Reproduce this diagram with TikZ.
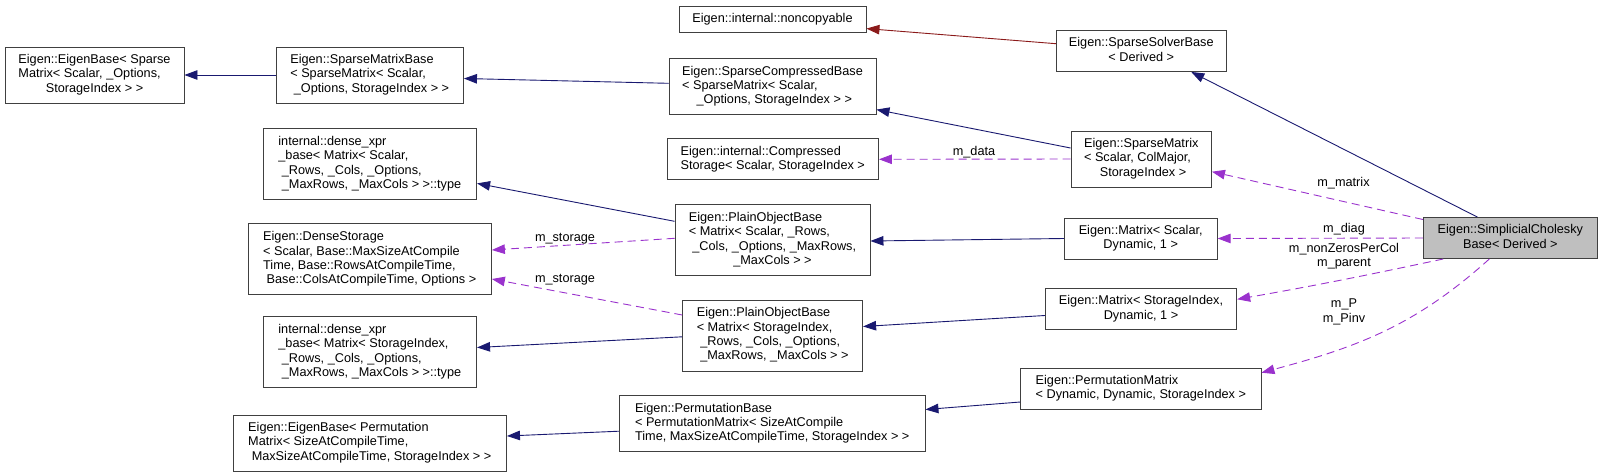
\documentclass[tikz,border=0pt]{standalone}
\usepackage{fontspec}
\setmainfont{Liberation Sans}
\usetikzlibrary{arrows.meta}
\definecolor{navy}{HTML}{191970}
\definecolor{dred}{HTML}{8B1A1A}
\definecolor{purp}{HTML}{9A32CD}
\definecolor{boxgray}{HTML}{BFBFBF}
\newcommand{\dlab}[2]{\begin{tabular}{@{}l@{}}#1\\\multicolumn{1}{@{}c@{}}{#2}\end{tabular}}
\tikzset{
  box/.style={draw=black!75, line width=0.9pt, inner sep=0pt, font=\fontsize{12.7}{14.3}\selectfont, text=black},
  lab/.style={font=\fontsize{12.7}{14.3}\selectfont, inner sep=0pt, align=center, text=black},
  tipa/.style={-{Triangle[length=13pt,width=9.5pt]}},
  inh/.style={draw=navy, line width=0.9pt, tipa},
  inhr/.style={draw=dred, line width=0.9pt, tipa},
  use/.style={draw=purp, line width=0.9pt, dash pattern=on 8pt off 5pt, tipa},
}
\begin{document}
\begin{tikzpicture}[x=1pt,y=-1pt]
\useasboundingbox (0,0) rectangle (1603,472);
% column 1
\node[box, minimum width=179pt, minimum height=56pt] (eb1) at (94.5,75) {\dlab{Eigen::EigenBase< Sparse\\Matrix< Scalar, \_Options,}{StorageIndex > >}};
% column 2
\node[box, minimum width=187.5pt, minimum height=56pt] (smb) at (369.75,75) {\dlab{Eigen::SparseMatrixBase\\< SparseMatrix< Scalar,}{\ \_Options, StorageIndex > >}};
\node[box, minimum width=213.6pt, minimum height=71pt] (dx1) at (369.8,164) {\dlab{internal::dense\_xpr\\\_base< Matrix< Scalar,\\\ \_Rows, \_Cols, \_Options,}{\ \_MaxRows, \_MaxCols > >::type}};
\node[box, minimum width=243.4pt, minimum height=71pt] (ds) at (369.7,259.3) {\dlab{Eigen::DenseStorage\\< Scalar, Base::MaxSizeAtCompile\\Time, Base::RowsAtCompileTime,}{\ Base::ColsAtCompileTime, Options >}};
\node[box, minimum width=213.6pt, minimum height=71pt] (dx2) at (369.8,352) {\dlab{internal::dense\_xpr\\\_base< Matrix< StorageIndex,\\\ \_Rows, \_Cols, \_Options,}{\ \_MaxRows, \_MaxCols > >::type}};
\node[box, minimum width=273.5pt, minimum height=56pt] (eb2) at (369.75,443) {\dlab{Eigen::EigenBase< Permutation\\Matrix< SizeAtCompileTime,}{\ MaxSizeAtCompileTime, StorageIndex > >}};
% column 3
\node[box, minimum width=187pt, minimum height=26pt] (nc) at (772.5,19) {Eigen::internal::noncopyable};
\node[box, minimum width=207pt, minimum height=56pt] (scb) at (772.5,86.6) {\dlab{Eigen::SparseCompressedBase\\< SparseMatrix< Scalar,}{\ \_Options, StorageIndex > >}};
\node[box, minimum width=211.5pt, minimum height=41pt] (cs) at (772.75,159.3) {\dlab{Eigen::internal::Compressed}{Storage< Scalar, StorageIndex >}};
\node[box, minimum width=195pt, minimum height=71pt] (pob1) at (772.5,240) {\dlab{Eigen::PlainObjectBase\\< Matrix< Scalar, \_Rows,\\\ \_Cols, \_Options, \_MaxRows,}{\_MaxCols > >}};
\node[box, minimum width=180pt, minimum height=71pt] (pob2) at (772.65,335.5) {\dlab{Eigen::PlainObjectBase\\< Matrix< StorageIndex,\\\ \_Rows, \_Cols, \_Options,}{\ \_MaxRows, \_MaxCols > >}};
\node[box, minimum width=305.5pt, minimum height=56pt] (pb) at (772.25,423.8) {\dlab{Eigen::PermutationBase\\< PermutationMatrix< SizeAtCompile}{Time, MaxSizeAtCompileTime, StorageIndex > >}};
% column 4
\node[box, minimum width=169.5pt, minimum height=41pt] (ssb) at (1141.25,51) {\dlab{Eigen::SparseSolverBase}{< Derived >}};
\node[box, minimum width=140.5pt, minimum height=56pt] (sm) at (1141.25,159) {\dlab{Eigen::SparseMatrix\\< Scalar, ColMajor,}{\ StorageIndex >}};
\node[box, minimum width=153pt, minimum height=41pt] (m1) at (1140.7,238.5) {\dlab{Eigen::Matrix< Scalar,}{Dynamic, 1 >}};
\node[box, minimum width=191.4pt, minimum height=41pt] (m2) at (1141,309) {\dlab{Eigen::Matrix< StorageIndex,}{Dynamic, 1 >}};
\node[box, minimum width=240.3pt, minimum height=41pt] (pm) at (1140.85,388.5) {\dlab{Eigen::PermutationMatrix}{< Dynamic, Dynamic, StorageIndex >}};
% column 5
\node[box, fill=boxgray, minimum width=174pt, minimum height=41pt] (sc) at (1510.35,238) {\dlab{Eigen::SimplicialCholesky}{Base< Derived >}};

% inheritance edges
\draw[inh] (smb.west) -- (eb1.east);
\draw[inh] ([yshift=3.3pt]scb.west) -- ([yshift=-3.5pt]smb.east);
\draw[inhr] ([yshift=7.3pt]ssb.west) -- ([yshift=-9.6pt]nc.east);
\draw[inh] ([xshift=-33pt]sc.north) -- ([xshift=50pt]ssb.south);
\draw[inh] ([yshift=11pt]sm.west) -- ([yshift=-23pt]scb.east);
\draw[inh] ([yshift=18.7pt]pob1.west) -- ([yshift=-19.4pt]dx1.east);
\draw[inh] (m1.west) -- ([yshift=-1pt]pob1.east);
\draw[inh] ([yshift=-6.5pt]m2.west) -- ([yshift=9pt]pob2.east);
\draw[inh] ([yshift=-1.3pt]pob2.west) -- ([yshift=4.5pt]dx2.east);
\draw[inh] ([yshift=-13.5pt]pm.west) -- ([yshift=14.3pt]pb.east);
\draw[inh] ([yshift=-7.4pt]pb.west) -- ([yshift=7pt]eb2.east);

% usage edges
\draw[use] (sm.west) -- (cs.east);
\draw[use] ([yshift=18.5pt]sc.west) -- ([yshift=-12.7pt]sm.east);
\draw[use] (sc.west) -- (m1.east);
\draw[use] ([xshift=-67pt]sc.south) to[out=192,in=10] ([yshift=9.7pt]m2.east);
\draw[use] ([xshift=-21pt]sc.south) to[out=222,in=15] ([yshift=15.8pt]pm.east);
\draw[use] ([yshift=1.7pt]pob1.west) -- ([yshift=9.3pt]ds.east);
\draw[use] ([yshift=20.5pt]pob2.west) -- ([yshift=-19.7pt]ds.east);

% edge labels
\node[lab] (lmdata) at (974,152) {m\_data};
\node[lab] (lmmatrix) at (1343.5,183) {m\_matrix};
\node[lab] (lmdiag) at (1344,229) {m\_diag};
\node[lab] (lmnz) at (1344,256) {m\_nonZerosPerCol\\m\_parent};
\node[lab] (lmp) at (1344,312) {m\_P\\m\_Pinv};
\node[lab] (lms1) at (565,239) {m\_storage};
\node[lab] (lms2) at (565,280) {m\_storage};
\end{tikzpicture}
\end{document}
